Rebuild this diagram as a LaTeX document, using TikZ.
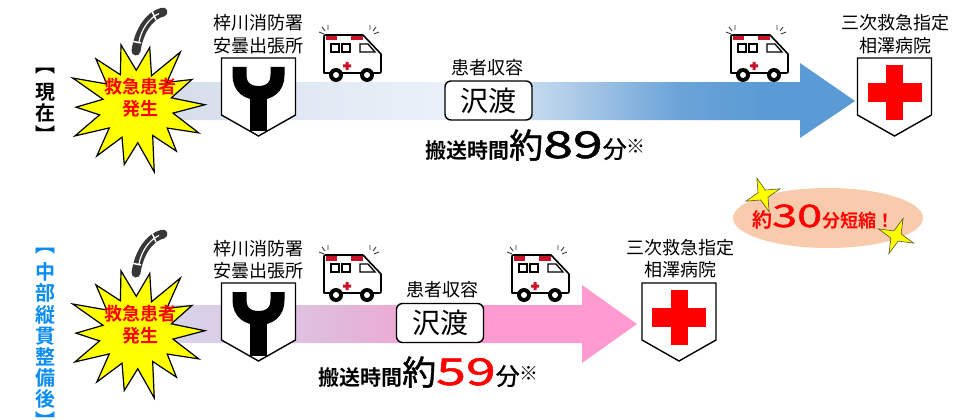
\documentclass[tikz,border=0pt]{standalone}
\usepackage{fontspec}
\setmainfont{Noto Sans CJK JP}[BoldFont={Noto Sans CJK JP Bold}]
\newfontfamily\digits{Noto Sans CJK JP}[FakeStretch=1.45, FakeBold=1.6, BoldFont={Noto Sans CJK JP Bold}]
\newfontfamily\medjp{Noto Sans CJK JP}[FakeBold=1.2]

\definecolor{emred}{RGB}{255,0,0}
\definecolor{burstyellow}{RGB}{255,255,0}
\definecolor{labblue}{RGB}{10,140,240}
\definecolor{peach}{RGB}{248,203,173}
\definecolor{ambred}{RGB}{200,20,40}
\definecolor{phonegray}{RGB}{55,55,55}
% blue arrow (current route)
\definecolor{bA}{RGB}{211,219,232}
\definecolor{bB}{RGB}{224,232,243}
\definecolor{bC}{RGB}{234,241,250}
\definecolor{bD}{RGB}{181,208,234}
\definecolor{bE}{RGB}{106,163,216}
\definecolor{bF}{RGB}{91,155,213}
% pink arrow (new route)
\definecolor{pA}{RGB}{214,214,234}
\definecolor{pB}{RGB}{220,203,228}
\definecolor{pC}{RGB}{226,182,218}
\definecolor{pD}{RGB}{244,164,210}
\definecolor{pE}{RGB}{255,155,208}

\pgfdeclarehorizontalshading{bluearrow}{100bp}{color(0bp)=(bA); color(25bp)=(bA); color(35.6bp)=(bB); color(46.3bp)=(bC); color(54.1bp)=(bD); color(62.6bp)=(bE); color(68.3bp)=(bF); color(100bp)=(bF)}
\pgfdeclarehorizontalshading{pinkarrow}{100bp}{color(0bp)=(pA); color(25bp)=(pA); color(35.3bp)=(pB); color(45.5bp)=(pC); color(53.7bp)=(pD); color(57.9bp)=(pE); color(100bp)=(pE)}

\tikzset{
  lbl/.style={font=\fontsize{18}{22.5}\selectfont, align=center, inner sep=0pt},
  vlab/.style={font=\fontsize{20}{20}\selectfont\bfseries, inner sep=0pt},
  burstline/.style={draw=black, line width=1.2pt, fill=burstyellow, line join=miter},
  shieldline/.style={draw=black, line width=1.4pt, fill=white},
  ferrybox/.style={draw=black, line width=1.4pt, fill=white, rounded corners=6pt,
    minimum width=87pt, minimum height=39pt, inner sep=0pt, font=\fontsize{28}{28}\selectfont},
  amb line/.style={draw=black, line width=1.6pt, line join=round},
  amb thin/.style={draw=black, line width=1.3pt},
  amb flash/.style={draw=phonegray, line width=0.9pt},
  sparkle/.style={fill=burstyellow, draw=black!50!olive, line width=0.6pt},
  shield/.pic={
    \draw[shieldline] (-37,0) -- (37,0) -- (37,57) -- (0,78) -- (-37,57) -- cycle;
  },
  fork/.pic={
    \draw[line width=14pt] (-19,9) -- (-19,17) .. controls (-19,30) and (-10,35) .. (0,35)
      .. controls (10,35) and (19,30) .. (19,17) -- (19,9);
    \fill[black] (-8.5,30) rectangle (8.5,73);
  },
  redcross/.pic={
    \fill[emred] (-8.5,7) rectangle (8.5,62);
    \fill[emred] (-27,25) rectangle (27,44);
  },
  ambulance/.pic={
    \draw[amb flash] (6,4) -- (9,8) (3,9) -- (8,11) (12,2) -- (12,7);
    \draw[amb flash] (60,4) -- (57,8) (63,9) -- (58,11) (54,2) -- (54,7);
    \draw[amb line, fill=white] (8,50) -- (8,14) .. controls (8,12) .. (10,12) -- (47,12)
      -- (65,31) -- (65,48) .. controls (65,50) .. (63,50) -- cycle;
    \fill[ambred] (10,13) rectangle (21,17.5);
    \fill[ambred] (35,13) rectangle (46.5,17.5);
    \draw[amb thin] (15,21) rectangle (23,29) (26,21) rectangle (34,29);
    \draw[amb thin] (44,21) -- (52,21) -- (59,29) -- (44,29) -- cycle;
    \fill[ambred] (29.5,39) rectangle (32.5,47) (27,41.5) rectangle (35,44.5);
    \foreach \wx in {20,51} {\fill[black] (\wx,52) circle (7); \fill[white] (\wx,52) circle (3);}
  },
  burst/.pic={
    \draw[burstline, xscale=1.05] plot[samples at={0,...,27}]
      ({256+\x*360/28}:{ifthenelse(mod(\x,2)==0,63+5*sin(\x*110),35+2*cos(\x*70))}) -- cycle;
  },
  handset/.pic={
    % receiver: dark curved body with a light groove along it
    \draw[phonegray, line width=9pt, line cap=round]
      (163,12) .. controls (150,15) and (139,30) .. (136,51);
    \draw[white, line width=1.2pt] (159,13.5) .. controls (149,18) and (141,30) .. (139,42);
    \draw[white, line width=1.5pt] (152,11) -- (156,20);
    \draw[white, line width=1.5pt] (131,41) -- (141,43);
  },
}

\begin{document}
\begin{tikzpicture}[x=1pt, y=-1pt]
\useasboundingbox (0,0) rectangle (953,420);

% ---------------- current route ----------------
\path[shading=bluearrow] (150,82) -- (800,82) -- (800,63) -- (855,101) -- (800,138) -- (800,120) -- (150,120) -- cycle;

\foreach \c/\y in {︻/71, 現/92, 在/113, ︼/134}
  \node[vlab] at (45,\y) {\c};

\pic at (0,0) {handset};
\pic at (137,106) {burst};
\node[font=\fontsize{18}{22}\selectfont\bfseries, text=emred, align=center, inner sep=0pt] (emerA) at (140,98) {救急患者\\発生};

\node[lbl] (stationA) at (258.5,34) {梓川消防署\\安曇出張所};
\pic at (258.5,58) {shield};
\pic at (258.5,58) {fork};

\pic at (316,23) {ambulance};
\pic at (723,23) {ambulance};

\node[lbl] (pickA) at (487,68) {患者収容};
\node[ferrybox] (ferryA) at (488.5,100.5) {沢渡};

\node[anchor=base west, inner sep=0pt] (timeA) at (425,158)
  {{\fontsize{21}{21}\selectfont\bfseries 搬送時間}{\medjp\fontsize{34}{34}\selectfont 約}{\digits\fontsize{37}{37}\selectfont 89}{\medjp\fontsize{24}{24}\selectfont 分}\raisebox{5pt}{\fontsize{19}{19}\selectfont ※}};

\node[lbl] (hospA) at (895,34) {三次救急指定\\相澤病院};
\pic at (894.5,58) {shield};
\pic at (894.5,58) {redcross};

% ---------------- after the new road ----------------
\path[shading=pinkarrow] (150,305) -- (582,305) -- (582,285) -- (637,324) -- (582,363) -- (582,343) -- (150,343) -- cycle;

\foreach \c/\y in {︻/251, 中/272, 部/293, 縦/315, 貫/336, 整/357, 備/378, 後/399, ︼/420}
  \node[vlab, text=labblue] at (45,\y) {\c};

\pic at (0,222) {handset};
\pic at (137,332) {burst};
\node[font=\fontsize{18}{22}\selectfont\bfseries, text=emred, align=center, inner sep=0pt] (emerB) at (140,325) {救急患者\\発生};

\node[lbl] (stationB) at (258.5,259.5) {梓川消防署\\安曇出張所};
\pic at (258.5,283) {shield};
\pic at (258.5,283) {fork};

\pic at (316,243) {ambulance};
\pic at (504,243) {ambulance};

\node[lbl] (pickB) at (442,290) {患者収容};
\node[ferrybox] (ferryB) at (440,323) {沢渡};

\node[anchor=base west, inner sep=0pt] (timeB) at (318,385)
  {{\fontsize{21}{21}\selectfont\bfseries 搬送時間}{\medjp\fontsize{34}{34}\selectfont 約}{\digits\fontsize{37}{37}\selectfont\color{emred}59}{\medjp\fontsize{24}{24}\selectfont 分}\raisebox{5pt}{\fontsize{19}{19}\selectfont ※}};

\node[lbl] (hospB) at (680,258.5) {三次救急指定\\相澤病院};
\pic at (679,283) {shield};
\pic at (679,283) {redcross};

% ---------------- time saved ----------------
\fill[peach] (828,218) ellipse [x radius=95, y radius=30];
\node[anchor=base west, inner sep=0pt, text=emred] (saved) at (752,227)
  {{\fontsize{20}{20}\selectfont\bfseries 約}{\digits\fontsize{31}{31}\selectfont 30}{\fontsize{18}{18}\selectfont\bfseries 分短縮！}};
\draw[sparkle] plot[samples at={0,...,7}, shift={(763,195)}]
  ({-20+\x*45}:{ifthenelse(mod(\x,2)==0,18,5.5)}) -- cycle;
\draw[sparkle] plot[samples at={0,...,7}, shift={(896,236)}]
  ({22+\x*45}:{ifthenelse(mod(\x,2)==0,19,5.5)}) -- cycle;
\end{tikzpicture}
\end{document}
